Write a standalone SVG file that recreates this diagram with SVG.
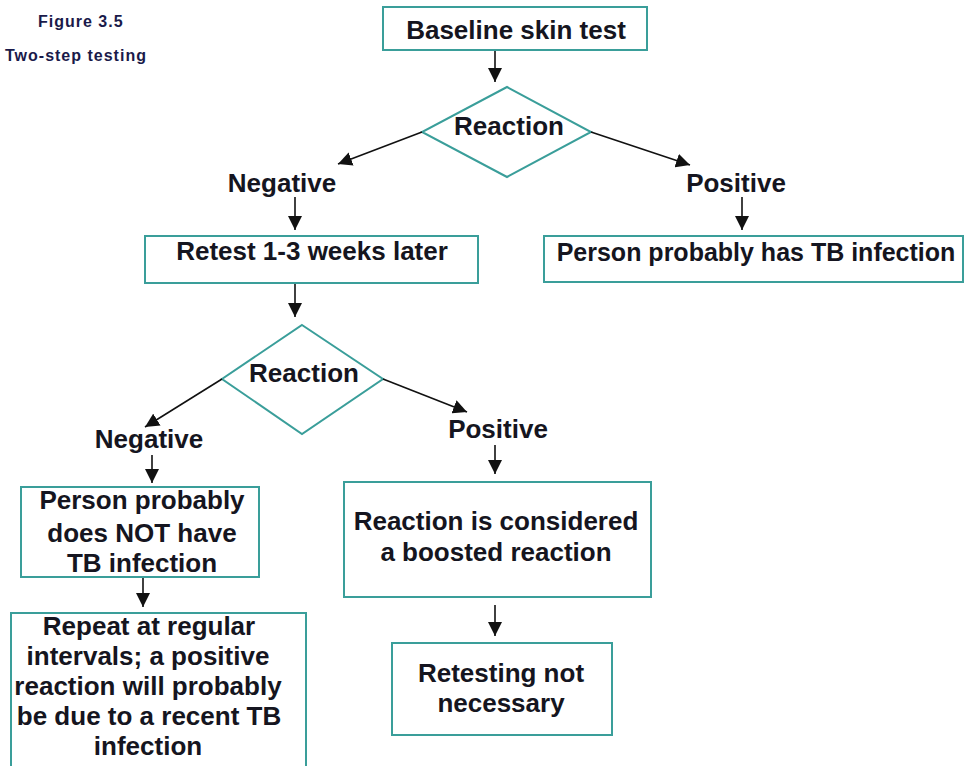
<svg xmlns="http://www.w3.org/2000/svg" width="966" height="766" viewBox="0 0 966 766">
<defs>
<marker id="ah" markerUnits="userSpaceOnUse" markerWidth="14" markerHeight="14" viewBox="0 0 12 12" refX="12" refY="6" orient="auto">
<path d="M0,0 L12,6 L0,12 z" fill="#111"/>
</marker>
<style>
.box{fill:#fff;stroke:#3a9e9a;stroke-width:2}
.t{font-family:"Liberation Sans",Arial,sans-serif;font-weight:bold;font-size:26px;fill:#151520;text-anchor:middle}
.title{font-family:"Liberation Sans",Arial,sans-serif;font-weight:bold;font-size:16px;fill:#1a1a4a;letter-spacing:1px}
.c{fill:none;stroke:#111;stroke-width:1.6;marker-end:url(#ah)}
</style>
</defs>
<rect width="966" height="766" fill="#fff"/>
<g id="title">
<text class="title" x="38" y="27">Figure 3.5</text>
<text class="title" x="5" y="61">Two-step  testing</text>
</g>
<g id="baseline">
<rect class="box" x="383" y="7" width="264" height="43"/>
<text class="t" x="516" y="39">Baseline skin test</text>
</g>
<g id="reaction1">
<polygon class="box" points="507,87 591,132 507,177 422,132"/>
<text class="t" x="509" y="135">Reaction</text>
</g>
<g id="negative1"><text class="t" x="282" y="192">Negative</text></g>
<g id="positive1"><text class="t" x="736" y="192">Positive</text></g>
<g id="retest">
<rect class="box" x="145" y="236" width="333" height="47"/>
<text class="t" x="312" y="260">Retest 1-3 weeks later</text>
</g>
<g id="hasTB">
<rect class="box" x="544" y="236" width="419" height="46"/>
<text class="t" x="756" y="261" style="font-size:25px">Person probably has TB infection</text>
</g>
<g id="reaction2">
<polygon class="box" points="302,325 383,379 302,434 222,379"/>
<text class="t" x="304" y="382">Reaction</text>
</g>
<g id="negative2"><text class="t" x="149" y="448">Negative</text></g>
<g id="positive2"><text class="t" x="498" y="438">Positive</text></g>
<g id="notTB">
<rect class="box" x="21" y="487" width="238" height="90"/>
<text class="t" x="142" y="509">Person probably</text>
<text class="t" x="142" y="542">does NOT have</text>
<text class="t" x="142" y="572">TB infection</text>
</g>
<g id="repeat">
<rect class="box" x="11" y="613" width="295" height="160"/>
<text class="t" x="149" y="635">Repeat at regular</text>
<text class="t" x="148" y="665">intervals; a positive</text>
<text class="t" x="148" y="695">reaction will probably</text>
<text class="t" x="149" y="725">be due to a recent TB</text>
<text class="t" x="148" y="755">infection</text>
</g>
<g id="boosted">
<rect class="box" x="344" y="482" width="307" height="115"/>
<text class="t" x="496" y="530">Reaction is considered</text>
<text class="t" x="496" y="561">a boosted reaction</text>
</g>
<g id="retesting">
<rect class="box" x="392" y="643" width="220" height="92"/>
<text class="t" x="501" y="682">Retesting not</text>
<text class="t" x="501" y="712">necessary</text>
</g>
<g id="connectors">
<line class="c" x1="495" y1="51" x2="495" y2="82"/>
<line class="c" x1="422" y1="132" x2="338" y2="164"/>
<line class="c" x1="591" y1="132" x2="690" y2="165"/>
<line class="c" x1="295" y1="197" x2="295" y2="230"/>
<line class="c" x1="742" y1="197" x2="742" y2="230"/>
<line class="c" x1="295" y1="284" x2="295" y2="317"/>
<line class="c" x1="222" y1="379" x2="145" y2="427"/>
<line class="c" x1="383" y1="379" x2="467" y2="412"/>
<line class="c" x1="152" y1="455" x2="152" y2="483"/>
<line class="c" x1="495" y1="445" x2="495" y2="474"/>
<line class="c" x1="143" y1="578" x2="143" y2="607"/>
<line class="c" x1="495" y1="605" x2="495" y2="636"/>
</g>
</svg>
